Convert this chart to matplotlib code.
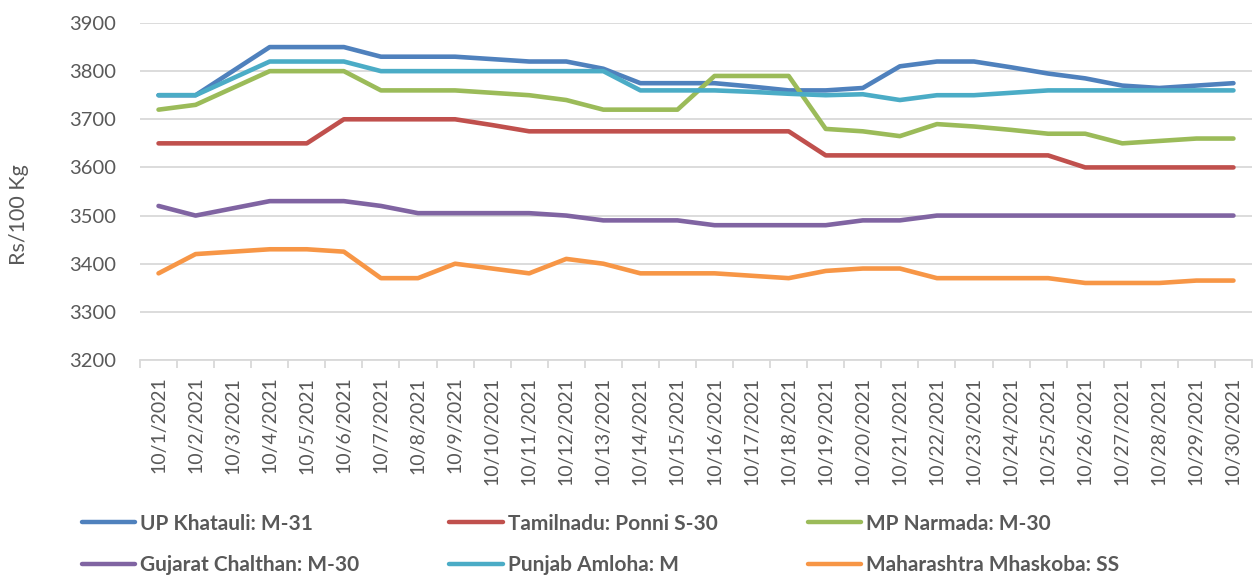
import matplotlib
matplotlib.use("Agg")
import matplotlib.pyplot as plt
import numpy as np

dates = [f"10/{d}/2021" for d in range(1, 31)]

up_khatauli = [3750, 3750, 3800, 3850, 3850, 3850, 3830, 3830, 3830, 3825,
               3820, 3820, 3805, 3775, 3775, 3775, 3768, 3760, 3760, 3765,
               3810, 3820, 3820, 3808, 3795, 3785, 3770, 3765, 3770, 3775]
tamilnadu = [3650, 3650, 3650, 3650, 3650, 3700, 3700, 3700, 3700, 3688,
             3675, 3675, 3675, 3675, 3675, 3675, 3675, 3675, 3625, 3625,
             3625, 3625, 3625, 3625, 3625, 3600, 3600, 3600, 3600, 3600]
mp_narmada = [3720, 3730, 3765, 3800, 3800, 3800, 3760, 3760, 3760, 3755,
              3750, 3740, 3720, 3720, 3720, 3790, 3790, 3790, 3680, 3675,
              3665, 3690, 3685, 3678, 3670, 3670, 3650, 3655, 3660, 3660]
gujarat = [3520, 3500, 3515, 3530, 3530, 3530, 3520, 3505, 3505, 3505,
           3505, 3500, 3490, 3490, 3490, 3480, 3480, 3480, 3480, 3490,
           3490, 3500, 3500, 3500, 3500, 3500, 3500, 3500, 3500, 3500]
punjab = [3750, 3750, 3785, 3820, 3820, 3820, 3800, 3800, 3800, 3800,
          3800, 3800, 3800, 3760, 3760, 3760, 3757, 3753, 3750, 3752,
          3740, 3750, 3750, 3755, 3760, 3760, 3760, 3760, 3760, 3760]
maharashtra = [3380, 3420, 3425, 3430, 3430, 3425, 3370, 3370, 3400, 3390,
               3380, 3410, 3400, 3380, 3380, 3380, 3375, 3370, 3385, 3390,
               3390, 3370, 3370, 3370, 3370, 3360, 3360, 3360, 3365, 3365]

series = [
    ("UP Khatauli: M-31", up_khatauli, "#4F81BD"),
    ("Tamilnadu: Ponni S-30", tamilnadu, "#C0504D"),
    ("MP Narmada: M-30", mp_narmada, "#9BBB59"),
    ("Gujarat Chalthan: M-30", gujarat, "#8064A2"),
    ("Punjab Amloha: M", punjab, "#4BACC6"),
    ("Maharashtra Mhaskoba: SS", maharashtra, "#F79646"),
]

plt.rcParams['font.family'] = ['Lato', 'DejaVu Sans']
txt = "#595959"

fig = plt.figure(figsize=(12.54, 5.76), dpi=100)
ax = fig.add_axes([140/1254, 216/576, 1112/1254, 337/576])

x = np.arange(len(dates))
lines = {}
for name, vals, col in series:
    ln, = ax.plot(x, vals, color=col, lw=3.3, solid_capstyle='round',
                  solid_joinstyle='round', label=name)
    lines[name] = ln

ax.set_xlim(-0.5, len(dates) - 0.5)
ax.set_ylim(3200, 3900)
ax.set_yticks(np.arange(3200, 3901, 100))
ax.grid(axis='y', color='#D9D9D9', lw=1.3)
ax.set_axisbelow(True)
for s in ['left', 'right', 'top']:
    ax.spines[s].set_visible(False)
ax.spines['bottom'].set_color('#D9D9D9')
ax.spines['bottom'].set_linewidth(1.3)

ax.set_xticks(x)
ax.set_xticklabels(dates, rotation=90)
ax.set_xticks(np.arange(-0.5, len(dates)), minor=True)
ax.tick_params(axis='x', which='major', length=0, pad=12, labelsize=14, labelcolor=txt)
ax.tick_params(axis='x', which='minor', length=6, color='#D9D9D9', width=1.3)
ax.tick_params(axis='y', length=0, pad=17, labelsize=14.5, labelcolor=txt)

ax.set_ylabel("Rs/100 Kg", fontsize=15.5, color=txt)
ax.yaxis.set_label_coords(-0.1, 0.43)

order = ["UP Khatauli: M-31", "Gujarat Chalthan: M-30",
         "Tamilnadu: Ponni S-30", "Punjab Amloha: M",
         "MP Narmada: M-30", "Maharashtra Mhaskoba: SS"]
leg = fig.legend([lines[n] for n in order], order, ncol=3,
                 loc='upper left', bbox_to_anchor=(0.065, 0.1085),
                 frameon=False, borderpad=0, borderaxespad=0,
                 handlelength=2.55, handletextpad=0.24, columnspacing=4.35,
                 labelspacing=1.05,
                 prop={'size': 15, 'weight': 'bold'})
for t in leg.get_texts():
    t.set_color(txt)
for h in leg.legend_handles:
    h.set_linewidth(3.2)

fig.savefig("out.png", dpi=100)
